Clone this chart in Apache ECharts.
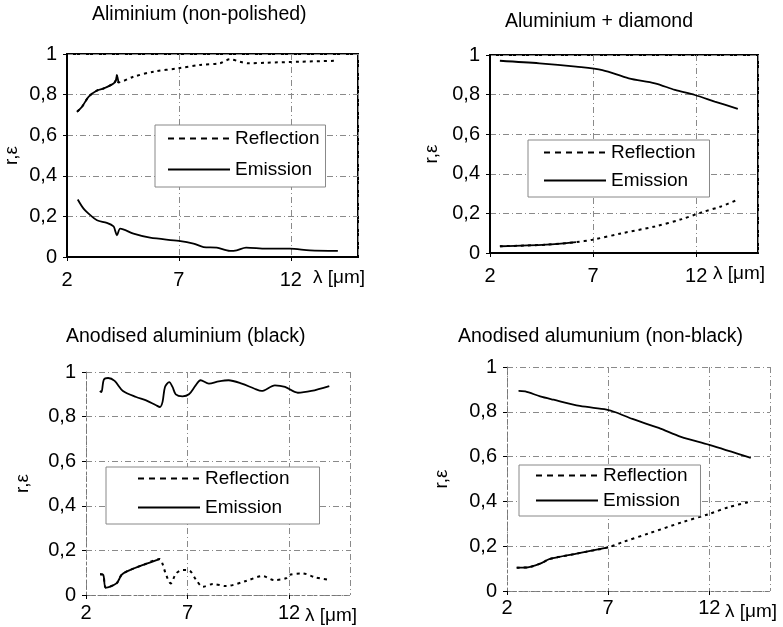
<!DOCTYPE html>
<html>
<head>
<meta charset="utf-8">
<script src="https://cdn.jsdelivr.net/npm/echarts@6/dist/echarts.min.js"></script>
<style>
html,body{margin:0;padding:0;background:#fff;}
#c{width:783px;height:627px;}
</style>
</head>
<body>
<div id="c"></div>
<script>
// ---- data (wavelength in µm, value) ----
const titles = ['Aliminium (non-polished)', 'Aluminium + diamond', 'Anodised aluminium (black)', 'Anodised alumunium (non-black)'];
const seriesNames = ['Reflection', 'Emission'];
const yAxisName = 'r,\u03b5';
const xAxisName = '\u03bb [\u03bcm]';

const p1Refl = [[2.45,0.715],[2.67,0.74],[2.97,0.79],[3.34,0.82],[3.63,0.83],[4.08,0.855],[4.18,0.87],[4.23,0.895],[4.3,0.86],[4.97,0.888],[5.86,0.913],[7,0.93],[7.94,0.946],[8.83,0.954],[9.28,0.974],[9.73,0.962],[10.1,0.954],[10.9,0.957],[12.4,0.962],[14.1,0.967]];
const p1Emis = [[2.48,0.283],[2.74,0.238],[3.04,0.206],[3.34,0.181],[3.78,0.168],[4.08,0.151],[4.15,0.13],[4.23,0.107],[4.38,0.14],[4.97,0.115],[5.71,0.095],[7,0.079],[7.65,0.066],[8.1,0.049],[8.69,0.046],[9.28,0.03],[9.58,0.033],[10.0,0.046],[10.9,0.041],[11.95,0.041],[12.85,0.033],[14.1,0.03]];

const p2Refl = [[2.48,0.034],[4.72,0.042],[6.17,0.055],[6.97,0.067],[8.41,0.1],[10.0,0.134],[11.3,0.171],[12.26,0.205],[13.2,0.235],[14.02,0.269]];
const p2Emis = [[2.48,0.971],[4.4,0.958],[6.17,0.941],[7.45,0.924],[8.73,0.882],[10.0,0.857],[10.97,0.824],[11.94,0.798],[12.9,0.765],[14.02,0.728]];

const p3Refl = [[2.69,0.093],[2.85,0.09],[2.98,0.033],[3.5,0.052],[3.75,0.09],[3.99,0.105],[4.81,0.135],[5.63,0.161],[5.76,0.142],[5.92,0.097],[6.17,0.052],[6.44,0.097],[6.77,0.112],[7.1,0.109],[7.43,0.067],[7.75,0.037],[8.25,0.049],[8.9,0.04],[9.88,0.063],[10.7,0.085],[11.27,0.067],[11.85,0.075],[12.0,0.09],[12.65,0.097],[13.3,0.079],[14.04,0.067]];
const p3Emis = [[2.68,0.915],[2.76,0.91],[2.88,0.966],[3.09,0.973],[3.41,0.96],[3.82,0.915],[4.47,0.888],[4.96,0.873],[5.45,0.851],[5.64,0.843],[5.77,0.866],[5.89,0.933],[6.1,0.955],[6.26,0.933],[6.42,0.9],[6.75,0.891],[7.07,0.9],[7.4,0.94],[7.64,0.963],[8.05,0.948],[8.54,0.958],[9.02,0.963],[9.67,0.948],[10.3,0.925],[10.65,0.915],[11.3,0.94],[11.8,0.933],[12.43,0.907],[13.1,0.915],[13.98,0.937]];

const p4Refl = [[2.48,0.104],[2.98,0.105],[3.64,0.122],[4.12,0.143],[5.44,0.167],[7.0,0.195],[7.74,0.219],[9.04,0.258],[10.69,0.308],[12.0,0.344],[12.98,0.375],[14.05,0.399]];
const p4Emis = [[2.57,0.893],[2.9,0.891],[3.64,0.869],[4.3,0.854],[5.6,0.826],[6.92,0.81],[7.4,0.797],[8.2,0.768],[9.5,0.728],[10.6,0.688],[12.0,0.652],[14.05,0.594]];

// part of the reflection curve where the dense points make the dotted line look solid
const denseUntil = [4.3, 6.2, 5.65, 7.0];

// ---- layout ----
const panels = [
  {refl: p1Refl, emis: p1Emis, grid: {left: 67, top: 54, width: 291, height: 203}, solidFrame: true,
   title: {left: 92, top: 5}, legend: {left: 155, top: 125, padding: [4, 6, 8, 12], gap: 12}, nameGap: 46, labelMargin: 13},
  {refl: p2Refl, emis: p2Emis, grid: {left: 490, top: 55, width: 268, height: 198}, solidFrame: true,
   title: {left: 505, top: 12}, legend: {left: 528, top: 140, padding: [3, 14, 7, 15], gap: 9}, nameGap: 49, labelMargin: 13},
  {refl: p3Refl, emis: p3Emis, grid: {left: 86, top: 372, width: 264, height: 223}, solidFrame: false,
   title: {left: 66, top: 327}, legend: {left: 106, top: 467, padding: [2, 30, 7, 31], gap: 10}, nameGap: 54, labelMargin: 8},
  {refl: p4Refl, emis: p4Emis, grid: {left: 507, top: 367, width: 263, height: 224}, solidFrame: false,
   title: {left: 458, top: 327}, legend: {left: 519, top: 465, padding: [1, 13, 6, 16], gap: 6}, nameGap: 56, labelMargin: 7}
];

const FONT = 'Liberation Sans, Arial, sans-serif';
const gridLine = {color: '#8a8a8a', width: 1, type: [6, 3, 1, 3]};
const fmtY = v => (v === 0 || v === 1) ? String(v) : v.toFixed(1).replace('.', ',');

const option = {
  backgroundColor: '#fff',
  animation: false,
  textStyle: {fontFamily: FONT, color: '#000'},
  title: [], grid: [], xAxis: [], yAxis: [], legend: [], series: []
};

panels.forEach((p, i) => {
  option.title.push({
    text: titles[i], left: p.title.left, top: p.title.top, padding: 0,
    textStyle: {fontFamily: FONT, fontSize: 19.5, fontWeight: 'normal', color: '#000'}
  });
  option.grid.push(Object.assign({
    show: true, backgroundColor: 'transparent',
    borderColor: p.solidFrame ? '#000' : 'transparent', borderWidth: p.solidFrame ? 2 : 0
  }, p.grid));
  const axisLineStyle = p.solidFrame ? {color: '#000', width: 2} : {color: '#777', width: 1, type: [3, 3]};
  option.xAxis.push({
    type: 'value', gridIndex: i, min: 2, max: 15, interval: 5,
    name: xAxisName, nameLocation: 'end', nameGap: -45,
    nameTextStyle: {fontFamily: FONT, fontSize: 19, color: '#000', align: 'left', verticalAlign: 'top', padding: [11, 0, 0, 0]},
    axisLine: {show: true, onZero: false, lineStyle: axisLineStyle},
    axisTick: {show: true, length: 4, lineStyle: {color: '#000'}},
    axisLabel: {fontFamily: FONT, fontSize: 20, color: '#000', margin: p.labelMargin, showMaxLabel: false},
    splitLine: {show: true, lineStyle: gridLine}
  });
  option.yAxis.push({
    type: 'value', gridIndex: i, min: 0, max: 1, interval: 0.2,
    name: yAxisName, nameLocation: 'middle', nameGap: p.nameGap, nameRotate: 90,
    nameTextStyle: {fontFamily: FONT, fontSize: 19, color: '#000'},
    axisLine: {show: true, onZero: false, lineStyle: axisLineStyle},
    axisTick: {show: true, length: 4, lineStyle: {color: '#000'}},
    axisLabel: {fontFamily: FONT, fontSize: 20, color: '#000', margin: 10, formatter: fmtY},
    splitLine: {show: true, lineStyle: gridLine}
  });
  option.legend.push({
    left: p.legend.left, top: p.legend.top,
    orient: 'vertical', padding: p.legend.padding, itemGap: p.legend.gap,
    itemWidth: 62, itemHeight: 14, itemStyle: {opacity: 0, borderWidth: 0},
    borderColor: '#888', borderWidth: 1, backgroundColor: '#fff',
    textStyle: {fontFamily: FONT, fontSize: 19, color: '#000'},
    selectedMode: false,
    data: [
      {name: seriesNames[0], lineStyle: {type: [6, 5], width: 2, color: '#000'}},
      {name: seriesNames[1], lineStyle: {type: 'solid', width: 2, color: '#000'}}
    ]
  });
  option.series.push({
    name: seriesNames[0], type: 'line', xAxisIndex: i, yAxisIndex: i, data: p.refl,
    showSymbol: false, symbol: 'none', smooth: 0.3, z: 3,
    lineStyle: {color: '#000', width: 2, type: [3, 4]}
  });
  option.series.push({
    name: 'dense-' + i, type: 'line', xAxisIndex: i, yAxisIndex: i,
    data: p.refl.filter(d => d[0] <= denseUntil[i]),
    showSymbol: false, symbol: 'none', smooth: 0.3, z: 3,
    lineStyle: {color: '#000', width: 1.8, type: 'solid'}
  });
  option.series.push({
    name: seriesNames[1], type: 'line', xAxisIndex: i, yAxisIndex: i, data: p.emis,
    showSymbol: false, symbol: 'none', smooth: 0.3, z: 3,
    lineStyle: {color: '#000', width: 1.8, type: 'solid'}
  });
});

const chart = echarts.init(document.getElementById('c'), null, {renderer: 'canvas'});
chart.setOption(option);
</script>
</body>
</html>
